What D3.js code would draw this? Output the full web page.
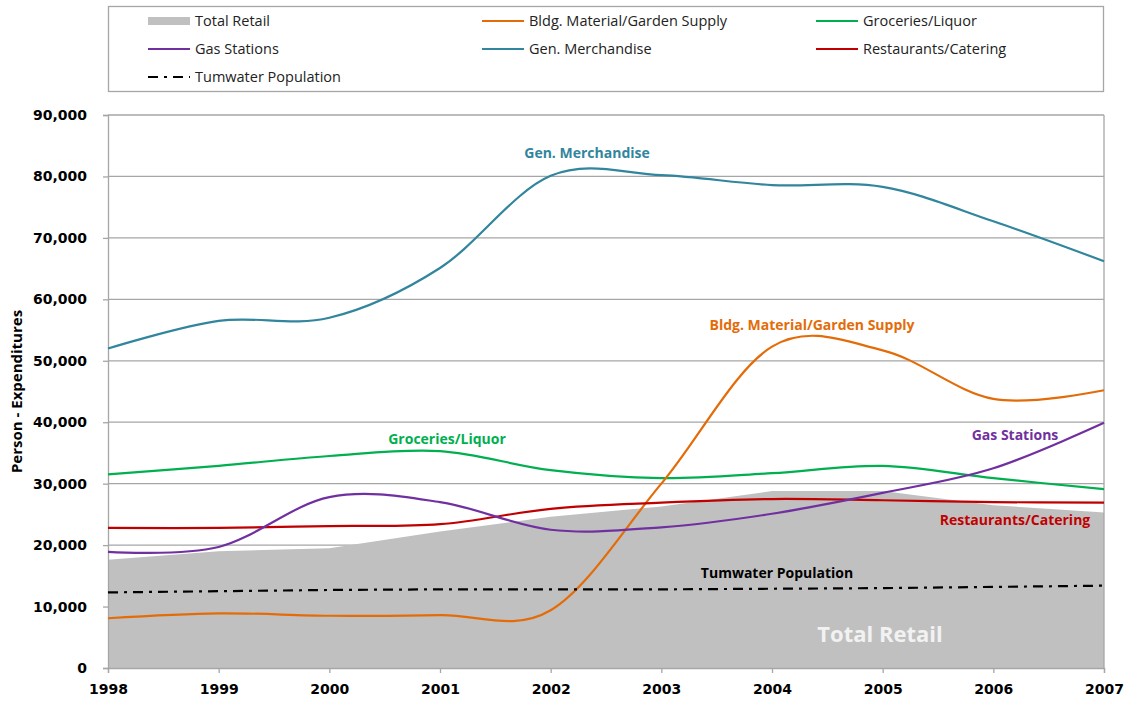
<!DOCTYPE html>
<html><head><meta charset="utf-8">
<script src="https://cdn.jsdelivr.net/npm/d3@7"></script>
<style>body{margin:0;background:#fff}svg{display:block}</style>
</head><body><svg id="c" width="1124" height="704"></svg>
<script>
const years = [1998,1999,2000,2001,2002,2003,2004,2005,2006,2007];
const totalRetail   = [17600,19000,19500,22200,24600,26300,28800,28800,26500,25300];
const bldgMaterial  = [8100,8900,8500,8600,9400,30000,52300,51700,43800,45200];
const groceries     = [31500,32900,34500,35300,32200,30900,31700,32900,30900,29100];
const gasStations   = [18900,19700,27800,27000,22500,22900,25100,28500,32500,39900];
const genMerch      = [52000,56500,57000,65100,80100,80200,78600,78300,72700,66200];
const restaurants   = [22800,22800,23100,23400,25900,26900,27500,27300,27000,26900];
const population    = [12300,12500,12700,12800,12800,12800,12900,13000,13200,13400];
const yTicks = [0,10000,20000,30000,40000,50000,60000,70000,80000,90000];

const svg = d3.select("#c");
const L=108,R=1104,T=115,B=668;
const x = d3.scaleLinear().domain([1998,2007]).range([L,R]);
const y = d3.scaleLinear().domain([0,90000]).range([B,T]);
const grid="#a6a6a6";

svg.append("g").selectAll("line").data(yTicks.filter(d=>d>0)).join("line")
  .attr("x1",L).attr("x2",R).attr("y1",d=>y(d)).attr("y2",d=>y(d))
  .attr("stroke",grid).attr("stroke-width",1.3);

const area = d3.area().x((d,i)=>x(years[i])).y0(y(0)).y1(d=>y(d));
svg.append("path").datum(totalRetail).attr("d",area).attr("fill","#c0c0c0");

const yAxis = d3.axisLeft(y).tickValues(yTicks).tickFormat(d3.format(",")).tickSize(5).tickPadding(16);
const gy = svg.append("g").attr("transform",`translate(${L},0)`).call(yAxis);
const xAxis = d3.axisBottom(x).tickValues(years).tickFormat(d3.format("d")).tickSize(5).tickPadding(14);
const gx = svg.append("g").attr("transform",`translate(0,${B})`).call(xAxis);
[gy,gx].forEach(g=>{
  g.selectAll("path,line").attr("stroke",grid).attr("stroke-width",1.3);
  g.selectAll("text").attr("font-family","DejaVu Sans").attr("font-weight","bold").attr("font-size",14).attr("fill","#000");
});
gx.selectAll("text").attr("dy","0.5em");
svg.append("line").attr("x1",R).attr("x2",R).attr("y1",T).attr("y2",B).attr("stroke",grid).attr("stroke-width",1.3);

svg.append("text").attr("transform",`translate(22,${(T+B)/2}) rotate(-90)`)
  .attr("text-anchor","middle").attr("font-family","Open Sans").attr("font-weight","bold").attr("font-size",15)
  .text("Person - Expenditures");

const line = d3.line().x((d,i)=>x(years[i])).y(d=>y(d)).curve(d3.curveCatmullRom.alpha(0));
const series = [
  {v:genMerch,c:"#31859c"},
  {v:groceries,c:"#00b050"},
  {v:bldgMaterial,c:"#e36c09"},
  {v:restaurants,c:"#c00000"},
  {v:gasStations,c:"#7030a0"},
];
series.forEach(s=>svg.append("path").datum(s.v).attr("d",line).attr("fill","none").attr("stroke",s.c).attr("stroke-width",2.2));
const popLine = d3.line().x((d,i)=>x(years[i])).y(d=>y(d));
svg.append("path").datum(population).attr("d",popLine).attr("fill","none").attr("stroke","#000")
  .attr("stroke-width",2.2).attr("stroke-dasharray","10,6,3,6");

const labels = [
  {t:"Gen. Merchandise",x:587,y:158,c:"#31859c"},
  {t:"Bldg. Material/Garden Supply",x:812,y:330,c:"#e36c09"},
  {t:"Groceries/Liquor",x:447,y:444,c:"#00b050"},
  {t:"Gas Stations",x:1015,y:440,c:"#7030a0"},
  {t:"Restaurants/Catering",x:1015,y:525,c:"#c00000"},
  {t:"Tumwater Population",x:777,y:578,c:"#000"},
];
svg.append("g").selectAll("text").data(labels).join("text")
  .attr("x",d=>d.x).attr("y",d=>d.y).attr("fill",d=>d.c).attr("text-anchor","middle")
  .attr("font-family","Open Sans").attr("font-weight","bold").attr("font-size",14).text(d=>d.t);
svg.append("text").attr("x",880).attr("y",642).attr("text-anchor","middle").attr("fill","#f2f2f2")
  .attr("font-family","Open Sans").attr("font-weight","bold").attr("font-size",22).text("Total Retail");

svg.append("rect").attr("x",108.5).attr("y",6.5).attr("width",995).attr("height",85)
  .attr("fill","#fff").attr("stroke","#a6a6a6").attr("stroke-width",1.3);
const legendItems = [
  {t:"Total Retail",type:"area",c:"#c0c0c0",col:0,row:0},
  {t:"Bldg. Material/Garden Supply",c:"#e36c09",col:1,row:0},
  {t:"Groceries/Liquor",c:"#00b050",col:2,row:0},
  {t:"Gas Stations",c:"#7030a0",col:0,row:1},
  {t:"Gen. Merchandise",c:"#31859c",col:1,row:1},
  {t:"Restaurants/Catering",c:"#c00000",col:2,row:1},
  {t:"Tumwater Population",type:"dash",c:"#000",col:0,row:2},
];
const colX=[148,482,816], rowY=[21,49,77];
const lg = svg.append("g").selectAll("g").data(legendItems).join("g")
  .attr("transform",d=>`translate(${colX[d.col]},${rowY[d.row]})`);
lg.each(function(d){
  const g=d3.select(this);
  if(d.type==="area") g.append("rect").attr("x",0).attr("y",-4).attr("width",42).attr("height",8).attr("fill",d.c);
  else g.append("line").attr("x1",0).attr("x2",42).attr("stroke",d.c).attr("stroke-width",2.2)
        .attr("stroke-dasharray",d.type==="dash"?"10,6,3,6":null);
  g.append("text").attr("x",47).attr("dy","0.35em").attr("font-family","Open Sans").attr("font-size",14.5)
    .attr("fill","#222").text(d.t);
});
</script></body></html>
